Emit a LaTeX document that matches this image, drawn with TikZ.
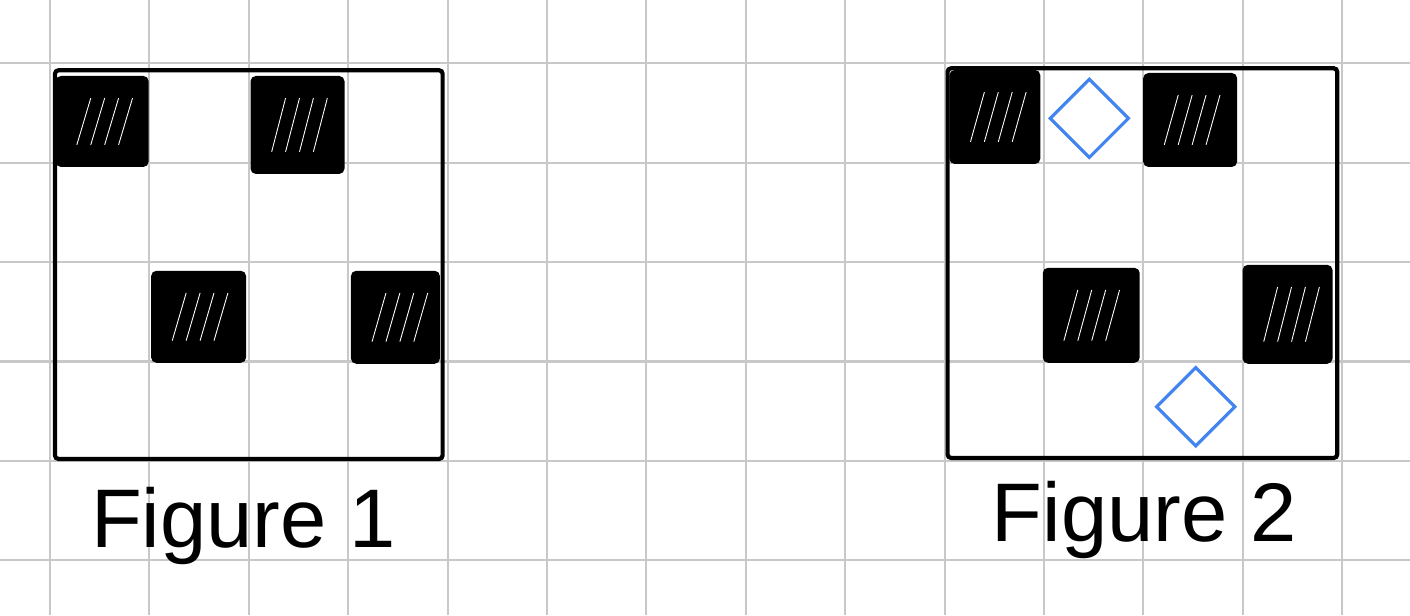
\documentclass[tikz,border=0pt]{standalone}
\usepackage{fontspec}
\setmainfont{Liberation Sans}
\usepackage{tikz}
\usetikzlibrary{shapes.geometric, positioning}

\definecolor{gridgray}{RGB}{200,200,200}
\definecolor{markblue}{RGB}{66,133,240}

\begin{document}
\begin{tikzpicture}[
        gridline/.style={gridgray, line width=0.6pt},
        frame/.style={draw=black, line width=1.2pt, rounded corners=1pt},
        blob/.style={fill=black, draw=black, line width=1.3pt, rounded corners=1pt},
        hatch/.style={white, line width=0.25pt},
        diamondmark/.style={draw=markblue, line width=0.9pt, shape=diamond, aspect=1, minimum width=0.8cm, minimum height=0.8cm, inner sep=0pt},
        caption/.style={font=\fontsize{23.8}{29}\selectfont, inner sep=0pt, anchor=base}
    ]
        \useasboundingbox (-0.503,-1.550) rectangle (13.682,4.637);
        \fill[white] (-0.503,-1.550) rectangle (13.682,4.637);

        % Grid paper
        \draw[gridline] (-0.503,-1.550) grid (13.682,4.637);

        % Frames
        \draw[frame] (0.05,0.02) rectangle (3.95,3.93);
        \draw[frame] (9.03,0.03) rectangle (12.95,3.95);

        % Scribbled squares
        \foreach \x/\y/\w/\h in {0.08/2.98/0.89/0.87, 2.04/2.91/0.90/0.94, 1.04/1.01/0.91/0.88, 3.05/1.00/0.85/0.89,
                                 9.07/3.01/0.87/0.90, 11.02/2.98/0.90/0.90, 10.01/1.01/0.93/0.91, 12.02/1.00/0.86/0.95}{
            \draw[blob] (\x,\y) rectangle ++(\w,\h);
            \foreach \k in {1,...,4}
                \draw[hatch] ({\x+0.05+0.14*\k},{\y+0.2}) -- ++(0.14,{\h-0.4});
        }

        % Diamonds
        \node[diamondmark] (top mark) at (10.456,3.447) {};
        \node[diamondmark] (bottom mark) at (11.526,0.545) {};

        % Captions
        \node[caption] (fig one) at (1.947,-0.869) {Figure 1};
        \node[caption] (fig two) at (11.01,-0.806) {Figure 2};
    \end{tikzpicture}
\end{document}
